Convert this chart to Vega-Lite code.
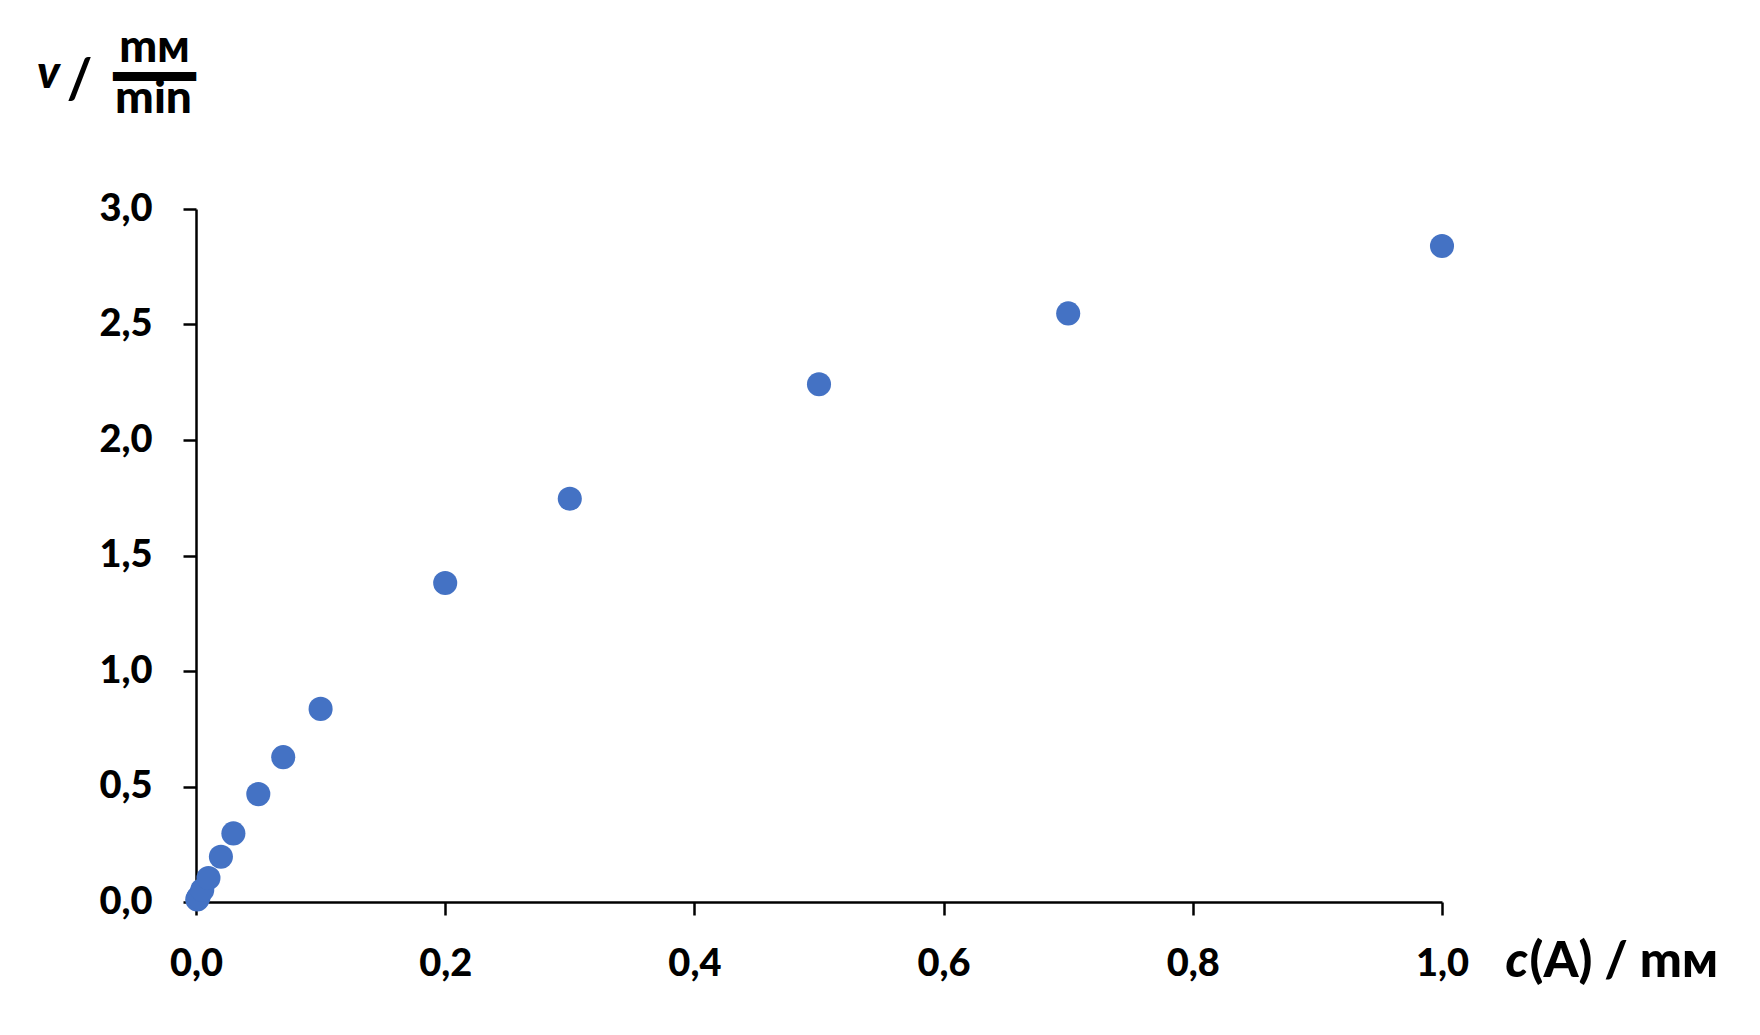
{
  "$schema": "https://vega.github.io/schema/vega-lite/v6.json",
  "width": 1246,
  "height": 693,
  "autosize": {"type": "none"},
  "padding": {"left": 196, "top": 209, "right": 318, "bottom": 133},
  "background": "white",
  "config": {
    "view": {"stroke": null},
    "axis": {"grid": false, "labelFlush": false, "labelOverlap": false, "titleFont": "Lato", "titleFontWeight": 900, "titleColor": "black", "labelFont": "Lato", "labelFontWeight": 900, "labelColor": "black"}
  },
  "data": {
    "values": [
      {"c": 0.001, "v": 0.011},
      {"c": 0.002, "v": 0.021},
      {"c": 0.005, "v": 0.052},
      {"c": 0.01, "v": 0.104},
      {"c": 0.02, "v": 0.196},
      {"c": 0.03, "v": 0.297},
      {"c": 0.05, "v": 0.467},
      {"c": 0.07, "v": 0.627},
      {"c": 0.1, "v": 0.836},
      {"c": 0.2, "v": 1.381},
      {"c": 0.3, "v": 1.746},
      {"c": 0.5, "v": 2.241},
      {"c": 0.7, "v": 2.548},
      {"c": 1.0, "v": 2.84}
    ]
  },
  "resolve": {"axis": {"x": "independent", "y": "independent"}},
  "layer": [
    {
      "mark": {"type": "circle", "size": 580, "opacity": 1, "color": "#4472C4"},
      "encoding": {
        "x": {
          "field": "c", "type": "quantitative",
          "scale": {"domain": [0, 1], "nice": false, "zero": false},
          "axis": {
            "orient": "bottom",
            "values": [0, 0.2, 0.4, 0.6, 0.8, 1.0],
            "labelExpr": "replace(format(datum.value, '.1f'), '.', ',')",
            "domainColor": "black", "domainWidth": 2.5,
            "tickColor": "black", "tickWidth": 2.5, "tickSize": 13,
            "labelFontSize": 38,
            "labelBaseline": "alphabetic", "labelPadding": 60, "labelAlign": "center",
            "title": "(A) / mм",
            "titleFontSize": 50,
            "titleX": 1333, "titleY": 74, "titleAlign": "left", "titleBaseline": "alphabetic", "titleAnchor": null
          }
        },
        "y": {
          "field": "v", "type": "quantitative",
          "scale": {"domain": [0, 3], "nice": false, "zero": false},
          "axis": {
            "orient": "left",
            "values": [0, 0.5, 1.0, 1.5, 2.0, 2.5, 3.0],
            "labelExpr": "replace(format(datum.value, '.1f'), '.', ',')",
            "domainColor": "black", "domainWidth": 2.5,
            "tickColor": "black", "tickWidth": 2.5, "tickSize": 13,
            "labelFontSize": 38,
            "labelBaseline": "middle", "labelPadding": 31, "labelAlign": "right",
            "title": ["mм", "━━━"],
            "titleFontSize": 45,
            "titleAngle": 0, "titleX": -42, "titleY": -148, "titleAlign": "center", "titleBaseline": "alphabetic",
            "titleLineHeight": 30, "titleAnchor": null
          }
        }
      }
    },
    {
      "mark": {"type": "circle", "size": 580, "opacity": 0},
      "encoding": {
        "x": {
          "field": "c", "type": "quantitative",
          "axis": {
            "orient": "bottom", "domain": false, "ticks": false, "labels": false,
            "title": "c",
            "titleFontSize": 50, "titleFontStyle": "italic",
            "titleX": 1309, "titleY": 74, "titleAlign": "left", "titleBaseline": "alphabetic", "titleAnchor": null
          }
        },
        "y": {
          "field": "v", "type": "quantitative",
          "axis": {
            "orient": "left", "domain": false, "ticks": false, "labels": false,
            "title": "v",
            "titleFontSize": 46, "titleFontStyle": "italic",
            "titleAngle": 0, "titleX": -148, "titleY": -122, "titleAlign": "center", "titleBaseline": "alphabetic", "titleAnchor": null
          }
        }
      }
    },
    {
      "mark": {"type": "circle", "size": 580, "opacity": 0},
      "encoding": {
        "x": {"field": "c", "type": "quantitative", "axis": null},
        "y": {
          "field": "v", "type": "quantitative",
          "axis": {
            "orient": "left", "domain": false, "ticks": false, "labels": false,
            "title": "/",
            "titleFontSize": 55, "titleFontWeight": "bold",
            "titleAngle": 0, "titleX": -117, "titleY": -112, "titleAlign": "center", "titleBaseline": "alphabetic", "titleAnchor": null
          }
        }
      }
    },
    {
      "mark": {"type": "circle", "size": 580, "opacity": 0},
      "encoding": {
        "x": {"field": "c", "type": "quantitative", "axis": null},
        "y": {
          "field": "v", "type": "quantitative",
          "axis": {
            "orient": "left", "domain": false, "ticks": false, "labels": false,
            "title": "min",
            "titleFontSize": 46,
            "titleAngle": 0, "titleX": -43, "titleY": -97, "titleAlign": "center", "titleBaseline": "alphabetic", "titleAnchor": null
          }
        }
      }
    }
  ]
}
